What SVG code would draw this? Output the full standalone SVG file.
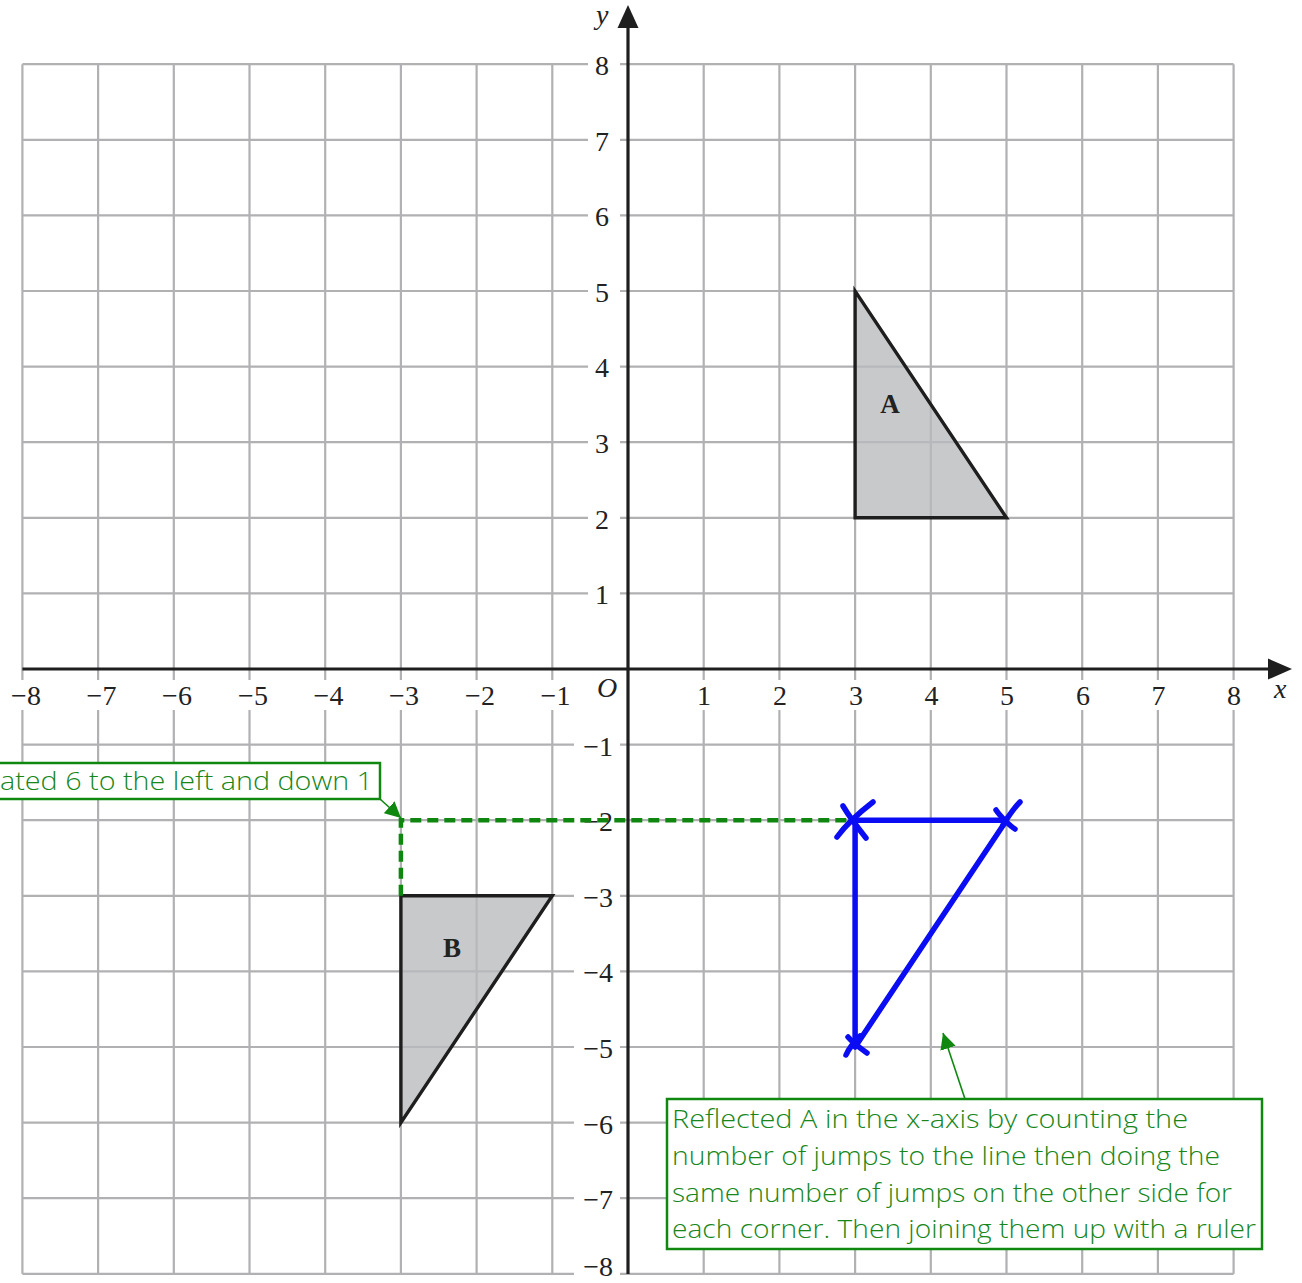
<svg xmlns="http://www.w3.org/2000/svg" width="1302" height="1283" viewBox="0 0 1302 1283">
<style>
.grid{stroke:#b1b1b4;stroke-width:2.2;fill:none}
.axis{stroke:#1e1e1e;stroke-width:3.2;fill:none}
.lbl{font-family:"Liberation Serif","Times New Roman",serif;font-size:28px;fill:#222}
.xl{text-anchor:middle}
.yl{text-anchor:end}
.it{font-style:italic}
.bg{fill:#ffffff}
.shape{fill:#b9babd;fill-opacity:0.78;stroke:#1e1e1e;stroke-width:3.4;stroke-linejoin:miter}
.name{font-family:"Liberation Serif","Times New Roman",serif;font-size:27px;font-weight:bold;fill:#222;text-anchor:middle}
.blue{stroke:#0a0cf4;stroke-width:5.5;fill:none;stroke-linecap:round;stroke-linejoin:round}
.dash{stroke:#0f860f;stroke-width:4.5;fill:none;stroke-dasharray:11 6}
.box{fill:#ffffff;stroke:#108810;stroke-width:2.5}
.note{font-family:"Open Sans","Lato",sans-serif;font-weight:300;font-size:26px;fill:#17871a}
.lead{stroke:#108810;stroke-width:1.6;fill:none}
</style>
<defs>
<marker id="ahg" viewBox="0 0 10 10" refX="10" refY="5" markerWidth="16" markerHeight="16" markerUnits="userSpaceOnUse" orient="auto">
<path d="M0,0 L10,5 L0,10 Z" fill="#108810"/>
</marker>
</defs>
<rect width="1302" height="1283" fill="#ffffff"/>
<g id="grid" class="grid">
<path d="M22.4,64.2V1273.8M98.1,64.2V1273.8M173.8,64.2V1273.8M249.5,64.2V1273.8M325.2,64.2V1273.8M400.9,64.2V1273.8M476.6,64.2V1273.8M552.3,64.2V1273.8M703.7,64.2V1273.8M779.4,64.2V1273.8M855.1,64.2V1273.8M930.8,64.2V1273.8M1006.5,64.2V1273.8M1082.2,64.2V1273.8M1157.9,64.2V1273.8M1233.6,64.2V1273.8"/>
<path d="M22.4,64.2H1233.6M22.4,139.8H1233.6M22.4,215.4H1233.6M22.4,291H1233.6M22.4,366.6H1233.6M22.4,442.2H1233.6M22.4,517.8H1233.6M22.4,593.4H1233.6M22.4,744.6H1233.6M22.4,820.2H1233.6M22.4,895.8H1233.6M22.4,971.4H1233.6M22.4,1047H1233.6M22.4,1122.6H1233.6M22.4,1198.2H1233.6M22.4,1273.8H1233.6"/>
</g>
<g id="shape-a">
<polygon class="shape" points="855.1,291 855.1,517.8 1006.5,517.8"/>
<text class="name" x="890" y="413">A</text>
</g>
<g id="shape-b">
<polygon class="shape" points="400.9,895.8 552.3,895.8 400.9,1122.6"/>
<text class="name" x="452" y="957">B</text>
</g>
<g id="axes">
<line class="axis" x1="22.4" y1="669" x2="1272" y2="669"/>
<path d="M1292,669 L1268,658.5 L1268,679.5 Z" fill="#1e1e1e"/>
<line class="axis" x1="628" y1="1274" x2="628" y2="26"/>
<path d="M628,5 L617.5,28 L638.5,28 Z" fill="#1e1e1e"/>
</g>
<g id="x-labels">
<rect class="bg" x="8" y="680" width="38" height="30"/><text class="lbl xl" x="26" y="705">−8</text>
<rect class="bg" x="84" y="680" width="38" height="30"/><text class="lbl xl" x="101.5" y="705">−7</text>
<rect class="bg" x="159" y="680" width="38" height="30"/><text class="lbl xl" x="177" y="705">−6</text>
<rect class="bg" x="235" y="680" width="38" height="30"/><text class="lbl xl" x="253" y="705">−5</text>
<rect class="bg" x="311" y="680" width="38" height="30"/><text class="lbl xl" x="328.5" y="705">−4</text>
<rect class="bg" x="386" y="680" width="38" height="30"/><text class="lbl xl" x="404" y="705">−3</text>
<rect class="bg" x="462" y="680" width="38" height="30"/><text class="lbl xl" x="480" y="705">−2</text>
<rect class="bg" x="538" y="680" width="38" height="30"/><text class="lbl xl" x="555.5" y="705">−1</text>
<rect class="bg" x="693" y="680" width="22" height="30"/><text class="lbl xl" x="704" y="705">1</text>
<rect class="bg" x="769" y="680" width="22" height="30"/><text class="lbl xl" x="780" y="705">2</text>
<rect class="bg" x="845" y="680" width="22" height="30"/><text class="lbl xl" x="856" y="705">3</text>
<rect class="bg" x="920" y="680" width="22" height="30"/><text class="lbl xl" x="931.5" y="705">4</text>
<rect class="bg" x="996" y="680" width="22" height="30"/><text class="lbl xl" x="1007" y="705">5</text>
<rect class="bg" x="1072" y="680" width="22" height="30"/><text class="lbl xl" x="1083" y="705">6</text>
<rect class="bg" x="1147" y="680" width="22" height="30"/><text class="lbl xl" x="1158.5" y="705">7</text>
<rect class="bg" x="1223" y="680" width="22" height="30"/><text class="lbl xl" x="1234" y="705">8</text>
<text class="lbl it" x="597" y="697">O</text>
<text class="lbl it" x="1274" y="698">x</text>
<text class="lbl it" x="596" y="24">y</text>
</g>
<g id="y-labels">
<rect class="bg" x="588" y="50" width="32" height="30"/><text class="lbl yl" x="609" y="75">8</text>
<rect class="bg" x="588" y="125" width="32" height="30"/><text class="lbl yl" x="609" y="151">7</text>
<rect class="bg" x="588" y="201" width="32" height="30"/><text class="lbl yl" x="609" y="226">6</text>
<rect class="bg" x="588" y="277" width="32" height="30"/><text class="lbl yl" x="609" y="302">5</text>
<rect class="bg" x="588" y="352" width="32" height="30"/><text class="lbl yl" x="609" y="377">4</text>
<rect class="bg" x="588" y="428" width="32" height="30"/><text class="lbl yl" x="609" y="453">3</text>
<rect class="bg" x="588" y="503" width="32" height="30"/><text class="lbl yl" x="609" y="529">2</text>
<rect class="bg" x="588" y="579" width="32" height="30"/><text class="lbl yl" x="609" y="604">1</text>
<rect class="bg" x="574" y="730" width="46" height="30"/><text class="lbl yl" x="613" y="756">−1</text>
<rect class="bg" x="574" y="806" width="46" height="30"/><text class="lbl yl" x="613" y="831">−2</text>
<rect class="bg" x="574" y="881" width="46" height="30"/><text class="lbl yl" x="613" y="907">−3</text>
<rect class="bg" x="574" y="957" width="46" height="30"/><text class="lbl yl" x="613" y="982">−4</text>
<rect class="bg" x="574" y="1033" width="46" height="30"/><text class="lbl yl" x="613" y="1058">−5</text>
<rect class="bg" x="574" y="1108" width="46" height="30"/><text class="lbl yl" x="613" y="1134">−6</text>
<rect class="bg" x="574" y="1184" width="46" height="30"/><text class="lbl yl" x="613" y="1209">−7</text>
<rect class="bg" x="574" y="1257" width="46" height="26"/><text class="lbl yl" x="613" y="1276">−8</text>
</g>
<g id="connectors">
<path class="dash" d="M400.9,895.8 V820.2 H855"/>
<path class="lead" d="M965,1099 L943,1033" marker-end="url(#ahg)"/>
<path class="lead" d="M380,799 L401,818" marker-end="url(#ahg)"/>
</g>
<g id="reflected-triangle" class="blue">
<path d="M855.1,820.2 H1006.5 L855.1,1047 Z"/>
<path d="M837,837 C845,826 860,812 873,802"/>
<path d="M843,806 C850,818 858,828 866,838"/>
<path d="M996,810 C1000,816 1010,826 1015,829"/>
<path d="M1003,825 C1008,817 1013,809 1020,802"/>
<path d="M846,1055 C850,1046 856,1040 860,1036"/>
<path d="M848,1037 C853,1043 860,1048 867,1053"/>
</g>
<g id="note-translate">
<rect class="box" x="-5" y="763" width="385" height="36"/>
<text class="note" x="373" y="790" text-anchor="end" textLength="373" lengthAdjust="spacingAndGlyphs">ated 6 to the left and down 1</text>
</g>
<g id="note-reflect">
<rect class="box" x="667" y="1099" width="595" height="150"/>
<text class="note" x="672" y="1128" textLength="516" lengthAdjust="spacingAndGlyphs">Reflected A in the x-axis by counting the</text>
<text class="note" x="672" y="1165" textLength="548" lengthAdjust="spacingAndGlyphs">number of jumps to the line then doing the</text>
<text class="note" x="672" y="1202" textLength="560" lengthAdjust="spacingAndGlyphs">same number of jumps on the other side for</text>
<text class="note" x="672" y="1238" textLength="584" lengthAdjust="spacingAndGlyphs">each corner. Then joining them up with a ruler</text>
</g>
</svg>
